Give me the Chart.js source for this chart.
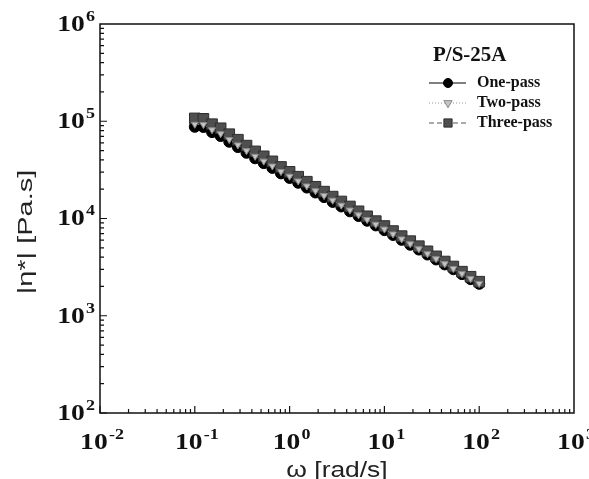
<!DOCTYPE html>
<html>
<head>
<meta charset="utf-8">
<style>
  html, body { margin: 0; padding: 0; background: #fff; }
  canvas { display: block; }
</style>
<script src="https://cdn.jsdelivr.net/npm/chart.js@4"></script>
</head>
<body>
<canvas id="chart" width="589" height="479"></canvas>
<script>
// angular frequency (rad/s)
const omega = [0.1, 0.1233, 0.152, 0.1874, 0.231, 0.2848, 0.3511, 0.4329, 0.5337, 0.6579, 0.8111,
  1, 1.233, 1.52, 1.874, 2.31, 2.848, 3.511, 4.329, 5.337, 6.579, 8.111,
  10, 12.33, 15.2, 18.74, 23.1, 28.48, 35.11, 43.29, 53.37, 65.79, 81.11, 100];

// complex viscosity |eta*| (Pa.s)
const onePass = [87700, 87300, 77300, 70500, 61500, 54300, 47400, 41600, 37100, 33100, 29100,
  26100, 23300, 20800, 18500, 16600, 14800, 13300, 11850, 10600, 9480, 8490,
  7590, 6770, 6030, 5370, 4790, 4260, 3790, 3370, 3010, 2680, 2380, 2130];
const twoPass = [93100, 92400, 81700, 74400, 64800, 57100, 49800, 43600, 38900, 34600, 30400,
  27200, 24300, 21600, 19300, 17200, 15400, 13700, 12200, 10900, 9750, 8710,
  7780, 6930, 6160, 5490, 4880, 4340, 3860, 3430, 3060, 2710, 2410, 2150];
const threePass = [107000, 105900, 93300, 84700, 73600, 64600, 56200, 49000, 43600, 38700, 33900,
  30200, 26900, 23900, 21200, 18900, 16800, 14960, 13300, 11860, 10540, 9400,
  8370, 7430, 6590, 5850, 5190, 4600, 4080, 3610, 3210, 2840, 2520, 2240];

const seriesNames = ['One-pass', 'Two-pass', 'Three-pass'];
const xTickExps = [-2, -1, 0, 1, 2, 3];
const yTickExps = [2, 3, 4, 5, 6];
const legendTitle = 'P/S-25A';

const ctx = document.getElementById('chart');
const toPts = (ys) => omega.map((w, i) => ({ x: w, y: ys[i] }));

const serif = '"Liberation Serif", "Times New Roman", serif';
const sans = '"Liberation Sans", Arial, sans-serif';
const SX = 1.2; // the scanned figure is a bit stretched sideways

function drawPow(c, exp, x, y, align) {
  const base = '10', sup = String(exp);
  c.save();
  c.font = 'bold 23px ' + serif;
  const wb = c.measureText(base).width;
  c.font = 'bold 15px ' + serif;
  const ws = c.measureText(sup).width;
  const total = (wb + ws + 1) * SX;
  const x0 = align === 'right' ? x - total : x - total / 2;
  c.translate(x0, y);
  c.scale(SX, 1);
  c.textBaseline = 'middle';
  c.textAlign = 'left';
  c.font = 'bold 23px ' + serif;
  c.fillText(base, 0, 0);
  c.font = 'bold 15px ' + serif;
  c.fillText(sup, wb + 1, -8);
  c.restore();
}

const framePlugin = {
  id: 'frame',
  afterDraw(chart) {
    const c = chart.ctx;
    const a = chart.chartArea;
    const xs = chart.scales.x, ys = chart.scales.y;
    c.save();
    c.strokeStyle = '#111';
    c.fillStyle = '#111';
    c.lineWidth = 1.5;
    c.strokeRect(a.left, a.top, a.right - a.left, a.bottom - a.top);

    // inward ticks on left and bottom axes
    c.lineWidth = 1.2;
    c.beginPath();
    for (let e = 2; e < 6; e++) {
      for (let d = 1; d <= 9; d++) {
        const py = ys.getPixelForValue(d * Math.pow(10, e));
        const len = d === 1 ? 7 : 4;
        c.moveTo(a.left, py); c.lineTo(a.left + len, py);
      }
    }
    for (let e = -2; e < 3; e++) {
      for (let d = 1; d <= 9; d++) {
        const px = xs.getPixelForValue(d * Math.pow(10, e));
        const len = d === 1 ? 7 : 4;
        c.moveTo(px, a.bottom); c.lineTo(px, a.bottom - len);
      }
    }
    c.stroke();

    // tick labels
    yTickExps.forEach(e => drawPow(c, e, a.left - 5, ys.getPixelForValue(Math.pow(10, e)) + 1, 'right'));
    xTickExps.forEach(e => drawPow(c, e, xs.getPixelForValue(Math.pow(10, e)) + 2, a.bottom + 30, 'center'));

    // axis titles
    c.fillStyle = '#222';
    c.textAlign = 'center';
    c.textBaseline = 'alphabetic';
    c.save();
    c.font = '22px ' + sans;
    c.translate((a.left + a.right) / 2, 477);
    c.scale(1.2, 1);
    c.fillText('\u03c9 [rad/s]', 0, 0);
    c.restore();
    c.save();
    c.font = '20px ' + sans;
    c.translate(32, 232);
    c.rotate(-Math.PI / 2);
    c.scale(1.45, 1);
    c.fillText('|\u03b7*| [Pa.s]', 0, 0);
    c.restore();

    // legend
    c.fillStyle = '#111';
    c.font = 'bold 21px ' + serif;
    c.textAlign = 'left';
    c.textBaseline = 'middle';
    c.fillText(legendTitle, 433, 56);
    const rows = [83, 103, 123];
    const legendR = [4.5, 4.8, 5.8];
    chart.data.datasets.forEach((ds, i) => {
      const y = rows[i];
      c.save();
      c.strokeStyle = ds.borderColor;
      c.lineWidth = 1;
      c.setLineDash(ds.borderDash || []);
      c.beginPath(); c.moveTo(429, y); c.lineTo(466, y); c.stroke();
      c.setLineDash([]);
      c.fillStyle = ds.pointBackgroundColor;
      c.strokeStyle = ds.pointBorderColor;
      c.lineWidth = 1;
      Chart.helpers.drawPoint(c, { pointStyle: ds.pointStyle, radius: legendR[i], rotation: ds.pointRotation || 0, borderWidth: 1 }, 448, y);
      c.restore();
      c.fillStyle = '#111';
      c.font = 'bold 16px ' + serif;
      c.fillText(ds.label, 477, y);
    });
    c.restore();
  }
};

new Chart(ctx, {
  type: 'line',
  data: {
    datasets: [
      {
        label: seriesNames[0], data: toPts(onePass),
        borderColor: '#000', borderWidth: 1,
        pointStyle: 'circle', pointRadius: 5.5,
        pointBackgroundColor: '#000', pointBorderColor: '#000',
        order: 2
      },
      {
        label: seriesNames[1], data: toPts(twoPass),
        borderColor: '#999', borderWidth: 1, borderDash: [1, 2],
        pointStyle: 'triangle', pointRotation: 180, pointRadius: 4,
        pointBackgroundColor: '#c4c4c4', pointBorderColor: '#8a8a8a',
        order: 0
      },
      {
        label: seriesNames[2], data: toPts(threePass),
        borderColor: '#555', borderWidth: 1, borderDash: [5, 3],
        pointStyle: 'rect', pointRadius: 7.5,
        pointBackgroundColor: '#4f4f4f', pointBorderColor: '#2e2e2e',
        order: 1
      }
    ]
  },
  options: {
    responsive: false,
    animation: false,
    layout: { padding: { top: 24, right: 15, left: 0, bottom: 0 } },
    plugins: { legend: { display: false }, tooltip: { enabled: false } },
    scales: {
      x: {
        type: 'logarithmic', min: 0.01, max: 1000,
        grid: { display: false }, border: { display: false },
        ticks: { display: false },
        afterFit(s) { s.height = 66; }
      },
      y: {
        type: 'logarithmic', min: 100, max: 1000000,
        grid: { display: false }, border: { display: false },
        ticks: { display: false },
        afterFit(s) { s.width = 100; }
      }
    }
  },
  plugins: [framePlugin]
});
</script>
</body>
</html>
